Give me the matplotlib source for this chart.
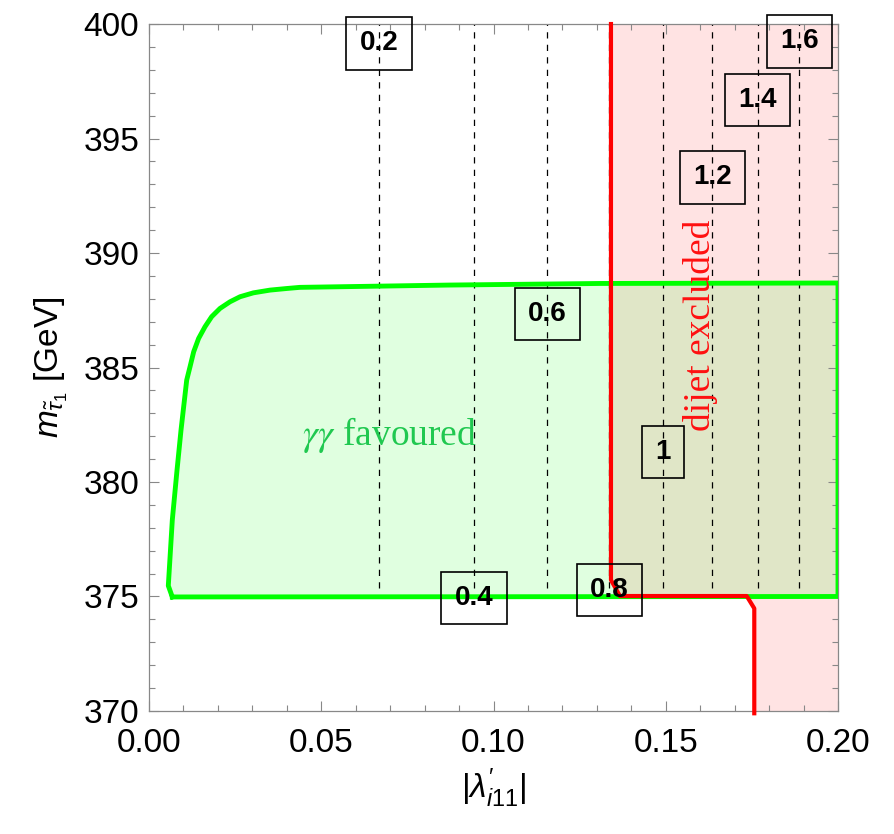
import matplotlib
matplotlib.use('Agg')
import matplotlib.pyplot as plt
from matplotlib.ticker import MultipleLocator

plt.rcParams['font.family'] = ['Liberation Sans', 'DejaVu Sans']
plt.rcParams['mathtext.fontset'] = 'custom'
plt.rcParams['mathtext.rm'] = 'Liberation Sans'
plt.rcParams['mathtext.it'] = 'Liberation Sans:italic'

# gamma gamma favoured region (boundary)
green_x = [0.00676, 0.0056, 0.00676, 0.00813, 0.00929, 0.01094, 0.0119, 0.01297, 0.0144,
           0.01625, 0.01819, 0.02061, 0.02351, 0.02642, 0.03028, 0.03512, 0.03997, 0.0438,
           0.087, 0.131, 0.2, 0.2, 0.00676]
green_y = [374.98, 375.47, 378.34, 380.52, 382.27, 384.45, 385.03, 385.69, 386.27,
           386.78, 387.22, 387.58, 387.87, 388.09, 388.26, 388.38, 388.45, 388.5,
           388.6, 388.67, 388.69, 375.0, 374.98]

# dijet exclusion boundary
red_x = [0.1341, 0.1341, 0.1367, 0.1735, 0.1757, 0.1757]
red_y = [400.0, 375.72, 375.02, 375.02, 374.48, 369.9]

# contour lines (dashed) and their labels
contour_vals = ['0.2', '0.4', '0.6', '0.8', '1', '1.2', '1.4', '1.6']
contour_x = [0.0668, 0.0943, 0.1156, 0.1336, 0.1493, 0.1635, 0.1767, 0.1888]
label_y = [399.15, 374.93, 387.34, 375.28, 381.31, 393.30, 396.68, 399.24]
contour_ymin = 375.35

fig = plt.figure(figsize=(8.95, 8.34), dpi=100)
ax = fig.add_axes([0.1665, 0.1475, 0.7698, 0.8237])

# pink excluded area
px = red_x + [0.2, 0.2]
py = red_y + [369.9, 400.0]
ax.fill(px, py, color=(1, 0, 0), alpha=0.11, lw=0, zorder=1)
ax.fill(green_x, green_y, color=(0, 1, 0), alpha=0.12, lw=0, zorder=1)

for xv in contour_x:
    ax.plot([xv, xv], [contour_ymin, 400], color='black', lw=0.9,
            linestyle=(0, (5, 5)), zorder=2)

ax.plot(green_x, green_y, color='#00ff00', lw=3.5, zorder=3, solid_joinstyle='round')
ax.plot(red_x, red_y, color='#ff0000', lw=3.0, zorder=3, clip_on=False)

for v, xv, yv in zip(contour_vals, contour_x, label_y):
    ax.text(xv, yv, v, ha='center', va='center', fontsize=20, fontweight='bold',
            zorder=5, bbox=dict(boxstyle='square,pad=0.48', fc='none', ec='black', lw=1.2))

ax.text(0.0697, 382.05, r'$\gamma\gamma$ favoured', color='#20c850', fontsize=27,
        family='Liberation Serif', ha='center', va='center', zorder=4,
        math_fontfamily='stix')
ax.text(0.1600, 386.86, 'dijet excluded', color='#ff1010', fontsize=27,
        family='Liberation Serif', ha='center', va='center', rotation=90, zorder=4)

ax.set_xlim(0, 0.2)
ax.set_ylim(370, 400)
ax.xaxis.set_major_locator(MultipleLocator(0.05))
ax.xaxis.set_minor_locator(MultipleLocator(0.01))
ax.yaxis.set_major_locator(MultipleLocator(5))
ax.yaxis.set_minor_locator(MultipleLocator(1))
ax.set_xticks([0, 0.05, 0.1, 0.15, 0.2])
ax.set_xticklabels(['0.00', '0.05', '0.10', '0.15', '0.20'])
ax.tick_params(which='both', direction='in', top=True, right=True, color='#888888',
               labelsize=24)
ax.tick_params(axis='x', pad=12)
ax.tick_params(axis='y', pad=7)
ax.tick_params(which='major', length=7, width=0.8)
ax.tick_params(which='minor', length=4.3, width=0.8)
for s in ax.spines.values():
    s.set_color('#888888')
    s.set_linewidth(0.9)

ax.set_xlabel(r"$|\lambda^{\prime}_{i11}|$", fontsize=24, labelpad=6)
ax.set_ylabel(r"$m_{\tilde{\tau}_1}$ [GeV]", fontsize=24, labelpad=10)

fig.savefig('out.png', dpi=100)
